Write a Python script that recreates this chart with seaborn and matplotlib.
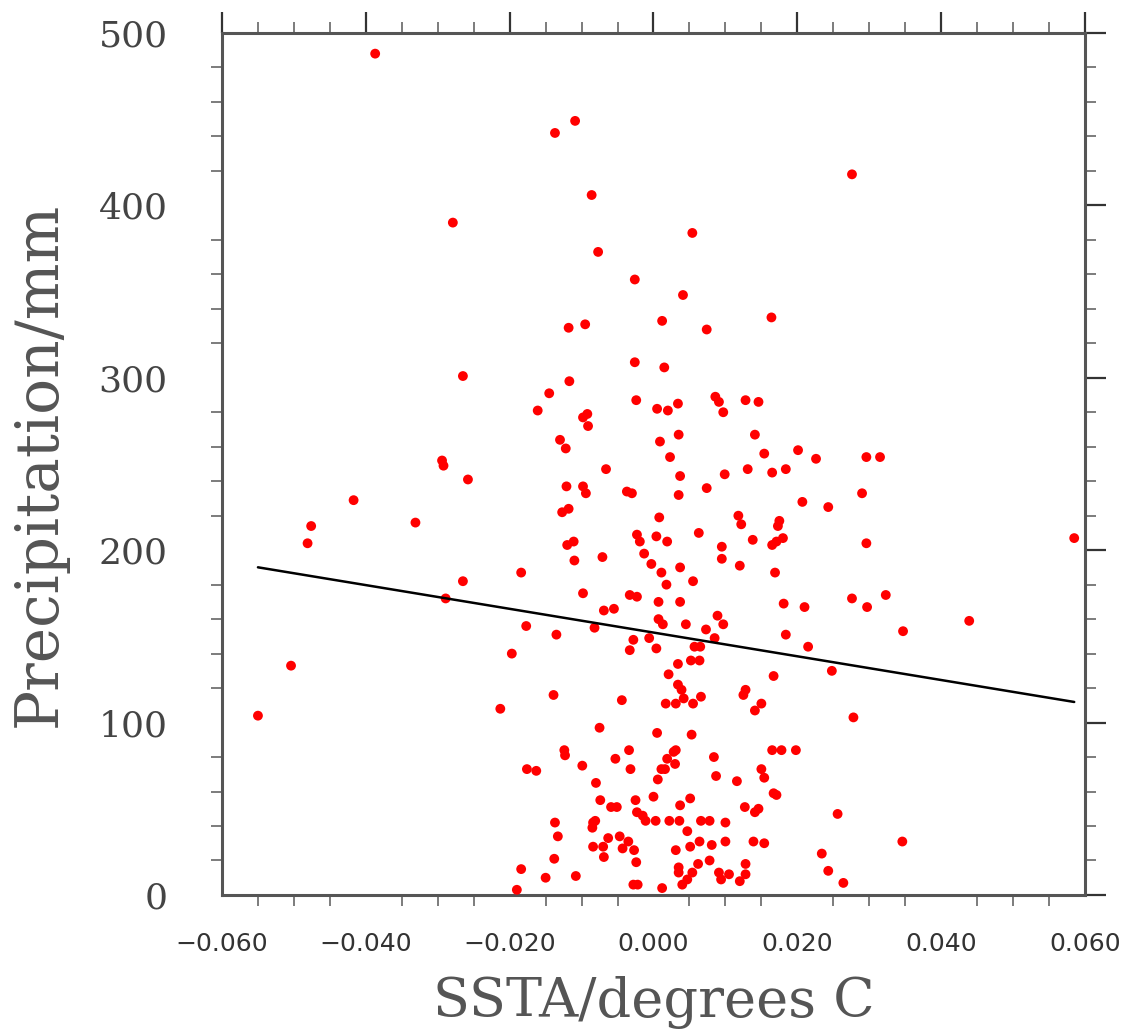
import numpy as np
import pandas as pd
import matplotlib
matplotlib.use("Agg")
import matplotlib.pyplot as plt
import seaborn as sns
from matplotlib.ticker import MultipleLocator, FixedLocator

# SSTA (degrees C)
ssta = [
    -0.0387, -0.0109, -0.0137, -0.0086, 0.0276, -0.0279, 0.0054, -0.0077, -0.0026, 0.0041,
    -0.0118, -0.0095, 0.0012, 0.0074, 0.0164, -0.0026, 0.0015, -0.0117, -0.0145, -0.0161,
    -0.0024, 0.0005, 0.0020, 0.0034, 0.0086, 0.0091, 0.0097, 0.0128, 0.0146, -0.0098,
    -0.0092, -0.0091, -0.0130, -0.0122, 0.0009, 0.0035, 0.0141, 0.0023, 0.0154, 0.0201,
    0.0226, -0.0066, 0.0037, 0.0099, 0.0131, 0.0165, 0.0184, -0.0121, -0.0098, -0.0094,
    -0.0037, -0.0030, 0.0035, 0.0074, 0.0207, 0.0243, -0.0127, -0.0118, 0.0008, 0.0118,
    0.0122, 0.0175, 0.0173, -0.0023, -0.0019, 0.0004, 0.0019, 0.0063, 0.0095, 0.0138,
    0.0165, 0.0171, 0.0180, -0.0120, -0.0111, -0.0110, -0.0071, -0.0013, -0.0003, 0.0095,
    0.0120, 0.0037, 0.0011, 0.0055, 0.0018, 0.0169, -0.0184, -0.0098, -0.0033, -0.0023,
    0.0007, 0.0037, 0.0181, 0.0210, -0.0069, -0.0055, 0.0089, 0.0097, 0.0007, 0.0013,
    0.0045, -0.0177, -0.0135, -0.0082, 0.0073, 0.0184, -0.0028, -0.0006, 0.0085, -0.0033,
    0.0004, 0.0057, 0.0065, 0.0215, -0.0197, 0.0034, 0.0052, 0.0064, 0.0021, 0.0167,
    0.0248, 0.0034, 0.0039, -0.0139, -0.0044, 0.0017, 0.0031, 0.0042, 0.0055, 0.0066,
    0.0128, 0.0125, 0.0150, 0.0141, -0.0213, -0.0075, 0.0005, 0.0053, -0.0124, -0.0123,
    -0.0034, -0.0053, 0.0031, 0.0028, 0.0019, 0.0030, 0.0011, 0.0016, -0.0032, 0.0084,
    0.0087, 0.0116, 0.0165, 0.0178, 0.0198, 0.0150, 0.0154, -0.0176, -0.0163, -0.0099,
    -0.0080, 0.0006, 0.0000, 0.0051, 0.0037, -0.0074, -0.0059, -0.0051, -0.0025, -0.0023,
    -0.0015, -0.0011, 0.0003, 0.0022, 0.0036, 0.0066, 0.0078, 0.0047, 0.0100, 0.0127,
    0.0141, 0.0146, 0.0167, 0.0171, 0.0256, -0.0137, -0.0133, -0.0138, -0.0184, -0.0190,
    -0.0150, -0.0108, -0.0084, -0.0081, -0.0085, -0.0084, -0.0070, -0.0069, -0.0063, -0.0047,
    -0.0043, -0.0035, -0.0027, -0.0024, -0.0028, -0.0022, 0.0012, 0.0031, 0.0035, 0.0035,
    0.0040, 0.0047, 0.0054, 0.0051, 0.0064, 0.0062, 0.0078, 0.0081, 0.0100, 0.0091,
    0.0094, 0.0105, 0.0120, 0.0128, 0.0128, 0.0139, 0.0154, 0.0234, 0.0243, 0.0264,
    -0.0265, -0.0294, -0.0292, -0.0258, -0.0417, -0.0476, -0.0481, -0.0331, -0.0265, -0.0289,
    -0.0504, -0.0550, 0.0296, 0.0315, 0.0290, 0.0296, 0.0585, 0.0276, 0.0323, 0.0297,
    0.0347, 0.0439, 0.0278, 0.0346,
]

# Precipitation (mm)
precip = [
    488, 449, 442, 406, 418, 390, 384, 373, 357, 348,
    329, 331, 333, 328, 335, 309, 306, 298, 291, 281,
    287, 282, 281, 285, 289, 286, 280, 287, 286, 277,
    279, 272, 264, 259, 263, 267, 267, 254, 256, 258,
    253, 247, 243, 244, 247, 245, 247, 237, 237, 233,
    234, 233, 232, 236, 228, 225, 222, 224, 219, 220,
    215, 217, 214, 209, 205, 208, 205, 210, 202, 206,
    203, 205, 207, 203, 205, 194, 196, 198, 192, 195,
    191, 190, 187, 182, 180, 187, 187, 175, 174, 173,
    170, 170, 169, 167, 165, 166, 162, 157, 160, 157,
    157, 156, 151, 155, 154, 151, 148, 149, 149, 142,
    143, 144, 144, 144, 140, 134, 136, 136, 128, 127,
    130, 122, 119, 116, 113, 111, 111, 114, 111, 115,
    119, 116, 111, 107, 108, 97, 94, 93, 84, 81,
    84, 79, 84, 83, 79, 76, 73, 73, 73, 80,
    69, 66, 84, 84, 84, 73, 68, 73, 72, 75,
    65, 67, 57, 56, 52, 55, 51, 51, 55, 48,
    46, 43, 43, 43, 43, 43, 43, 37, 42, 51,
    48, 50, 59, 58, 47, 42, 34, 21, 15, 3,
    10, 11, 42, 43, 39, 28, 28, 22, 33, 34,
    27, 31, 26, 19, 6, 6, 4, 26, 16, 13,
    6, 9, 13, 28, 31, 18, 20, 29, 31, 13,
    9, 12, 8, 12, 18, 31, 30, 24, 14, 7,
    301, 252, 249, 241, 229, 214, 204, 216, 182, 172,
    133, 104, 254, 254, 233, 204, 207, 172, 174, 167,
    153, 159, 103, 31,
]

x_ticks = [-0.06, -0.04, -0.02, 0.0, 0.02, 0.04, 0.06]
x_tick_labels = ["\u22120.060", "\u22120.040", "\u22120.020", "0.000", "0.020", "0.040", "0.060"]
y_ticks = [0, 100, 200, 300, 400, 500]
y_tick_labels = ["0", "100", "200", "300", "400", "500"]

df = pd.DataFrame({"ssta": ssta, "precip": precip})

sns.set_theme(style="white")
plt.rcParams["font.family"] = ["DejaVu Serif", "DejaVu Sans"]

fig = plt.figure(figsize=(11.24, 10.30), dpi=100)
ax = fig.add_axes([0.1975, 0.1311, 0.9653 - 0.1975, 0.968 - 0.1311])

sns.scatterplot(data=df, x="ssta", y="precip", ax=ax, color="#ff0000",
                s=50, edgecolor="none", linewidth=0, zorder=3)
sns.regplot(data=df, x="ssta", y="precip", ax=ax, scatter=False, ci=None,
            truncate=True, line_kws={"color": "black", "linewidth": 1.8, "zorder": 4})

ax.set_xlim(-0.06, 0.06)
ax.set_ylim(0, 500)

ax.xaxis.set_major_locator(FixedLocator(x_ticks))
ax.xaxis.set_minor_locator(MultipleLocator(0.005))
ax.yaxis.set_major_locator(FixedLocator(y_ticks))
ax.yaxis.set_minor_locator(MultipleLocator(20))

ax.set_xticklabels(x_tick_labels, fontsize=18, color="#333333",
                   family=["DejaVu Sans"])
ax.set_yticklabels(y_tick_labels, fontsize=26, color="#444444",
                   family=["DejaVu Serif"])

ax.tick_params(axis="both", which="major", direction="out", length=15, width=1.6,
               color="#333333", top=True, right=True, labeltop=False, labelright=False)
ax.tick_params(axis="both", which="minor", direction="out", length=8, width=1.2,
               color="#666666", top=True, right=True, bottom=True, left=True)
ax.tick_params(axis="x", which="major", pad=12)
ax.tick_params(axis="y", which="major", pad=24)

for sp in ax.spines.values():
    sp.set_visible(True)
    sp.set_color("#555555")
    sp.set_linewidth(2.2)

ax.set_xlabel("SSTA/degrees C", fontsize=39, color="#555555", labelpad=14)
ax.set_ylabel("Precipitation/mm", fontsize=43, color="#555555", labelpad=22)

fig.savefig("out.png", dpi=100)
